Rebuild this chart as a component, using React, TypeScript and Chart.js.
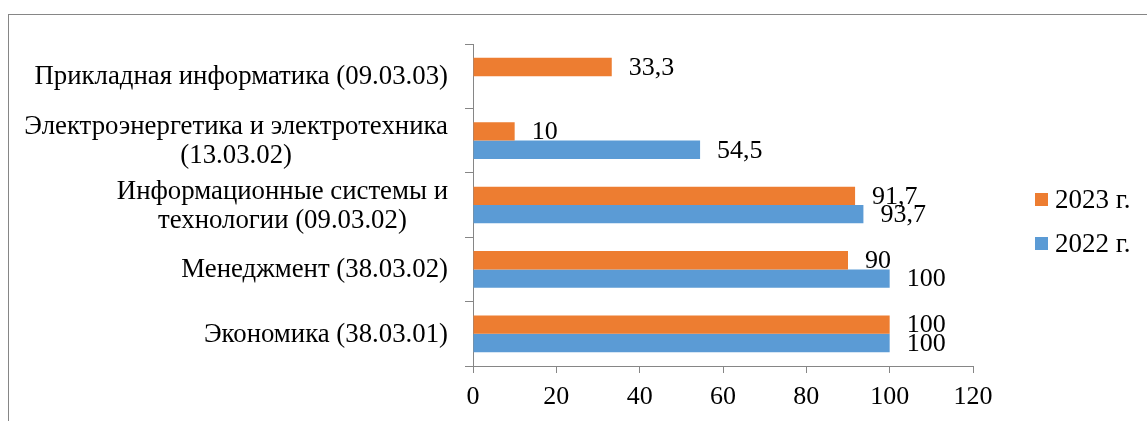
import React, { useEffect, useRef } from "react";
import { Chart, registerables } from "chart.js";

Chart.register(...registerables);

// ---- data ----
const categories: string[][] = [
  ["Прикладная информатика (09.03.03)"],
  ["Электроэнергетика и электротехника", "(13.03.02)"],
  ["Информационные системы и", "технологии (09.03.02)"],
  ["Менеджмент (38.03.02)"],
  ["Экономика (38.03.01)"],
];
const seriesNames = ["2023 г.", "2022 г."];
const values2023: (number | null)[] = [33.3, 10, 91.7, 90, 100];
const values2022: (number | null)[] = [null, 54.5, 93.7, 100, 100];
const xTicks = [0, 20, 40, 60, 80, 100, 120];

// ---- styles ----
const FONT = "'Liberation Serif', 'Times New Roman', serif";
const FS = 26;
const CAT_FS = 26.8;
const LEG_FS = 27;
const ORANGE = "#ED7D31";
const BLUE = "#5B9BD5";
const AXIS = "#868686";

const fmt = (v: number) => String(v).replace(".", ",");

const categoryLabelPlugin = {
  id: "catLabels",
  afterDraw(chart: any) {
    const ctx = chart.ctx;
    const ys = chart.scales.y;
    ctx.save();
    ctx.font = `${CAT_FS}px ${FONT}`;
    ctx.fillStyle = "#000";
    ctx.textAlign = "center";
    ctx.textBaseline = "middle";
    const right = chart.chartArea.left - 25;
    const lineH = 29;
    categories.forEach((lines, i) => {
      const cy = ys.getPixelForValue(i) + 1;
      const w = Math.max(...lines.map((l) => ctx.measureText(l).width));
      const cx = right - w / 2;
      lines.forEach((l, j) => {
        ctx.fillText(l, cx, cy + (j - (lines.length - 1) / 2) * lineH);
      });
    });
    ctx.restore();
  },
};

const dataLabelPlugin = {
  id: "dataLabels",
  afterDatasetsDraw(chart: any) {
    const ctx = chart.ctx;
    ctx.save();
    ctx.font = `${FS}px ${FONT}`;
    ctx.fillStyle = "#000";
    ctx.textAlign = "left";
    ctx.textBaseline = "middle";
    chart.data.datasets.forEach((ds: any, di: number) => {
      const meta = chart.getDatasetMeta(di);
      meta.data.forEach((el: any, i: number) => {
        const v = ds.data[i];
        if (v === null || v === undefined) return;
        ctx.fillText(fmt(v), el.x + 17, el.y + 1);
      });
    });
    ctx.restore();
  },
};

const legendPlugin = {
  id: "customLegend",
  afterDraw(chart: any) {
    const ctx = chart.ctx;
    ctx.save();
    ctx.font = `${LEG_FS}px ${FONT}`;
    ctx.textAlign = "left";
    ctx.textBaseline = "middle";
    const x = chart.chartArea.right + 62;
    const y0 = 184.5;
    chart.data.datasets.forEach((ds: any, i: number) => {
      const cy = y0 + i * 44;
      ctx.fillStyle = ds.backgroundColor;
      ctx.fillRect(x, cy - 6.5, 13, 13);
      ctx.fillStyle = "#000";
      ctx.fillText(ds.label, x + 20, cy + 1);
    });
    ctx.restore();
  },
};

export default function App() {
  const ref = useRef<HTMLCanvasElement | null>(null);
  useEffect(() => {
    if (!ref.current) return;
    const chart = new Chart(ref.current, {
      type: "bar",
      data: {
        labels: categories.map((c) => c.join(" ")),
        datasets: [
          {
            label: seriesNames[0],
            data: values2023,
            backgroundColor: ORANGE,
            borderWidth: 0,
            barPercentage: 1,
            categoryPercentage: 0.57,
          },
          {
            label: seriesNames[1],
            data: values2022,
            backgroundColor: BLUE,
            borderWidth: 0,
            barPercentage: 1,
            categoryPercentage: 0.57,
          },
        ],
      },
      options: {
        indexAxis: "y",
        animation: false,
        responsive: false,
        maintainAspectRatio: false,
        layout: { padding: { top: 29, right: 174, left: 0, bottom: 5 } },
        plugins: {
          legend: { display: false },
          tooltip: { enabled: false },
        },
        scales: {
          x: {
            min: 0,
            max: 120,
            afterBuildTicks: (s: any) => {
              s.ticks = xTicks.map((v) => ({ value: v }));
            },
            afterFit: (s: any) => {
              s.height = 50;
            },
            border: { display: true, color: AXIS, width: 1 },
            grid: {
              drawOnChartArea: false,
              drawTicks: true,
              tickLength: 7,
              color: AXIS,
              tickColor: AXIS,
            },
            ticks: {
              color: "#000",
              font: { family: FONT, size: FS },
              padding: 9,
              maxRotation: 0,
              callback: (v: any) => String(v),
            },
          },
          y: {
            afterFit: (s: any) => {
              s.width = 464;
            },
            border: { display: true, color: AXIS, width: 1 },
            grid: {
              drawOnChartArea: false,
              drawTicks: true,
              tickLength: 8,
              color: AXIS,
              tickColor: AXIS,
              offset: true,
            },
            ticks: { display: false },
          },
        },
      },
      plugins: [categoryLabelPlugin, dataLabelPlugin, legendPlugin],
    });
    return () => chart.destroy();
  }, []);

  return (
    <div
      style={{
        position: "fixed",
        left: 8,
        top: 14,
        width: 1139,
        height: 407,
        borderTop: `1px solid ${AXIS}`,
        borderLeft: `1px solid ${AXIS}`,
        background: "#fff",
      }}
    >
      <canvas ref={ref} width={1138} height={406} style={{ display: "block" }} />
    </div>
  );
}
